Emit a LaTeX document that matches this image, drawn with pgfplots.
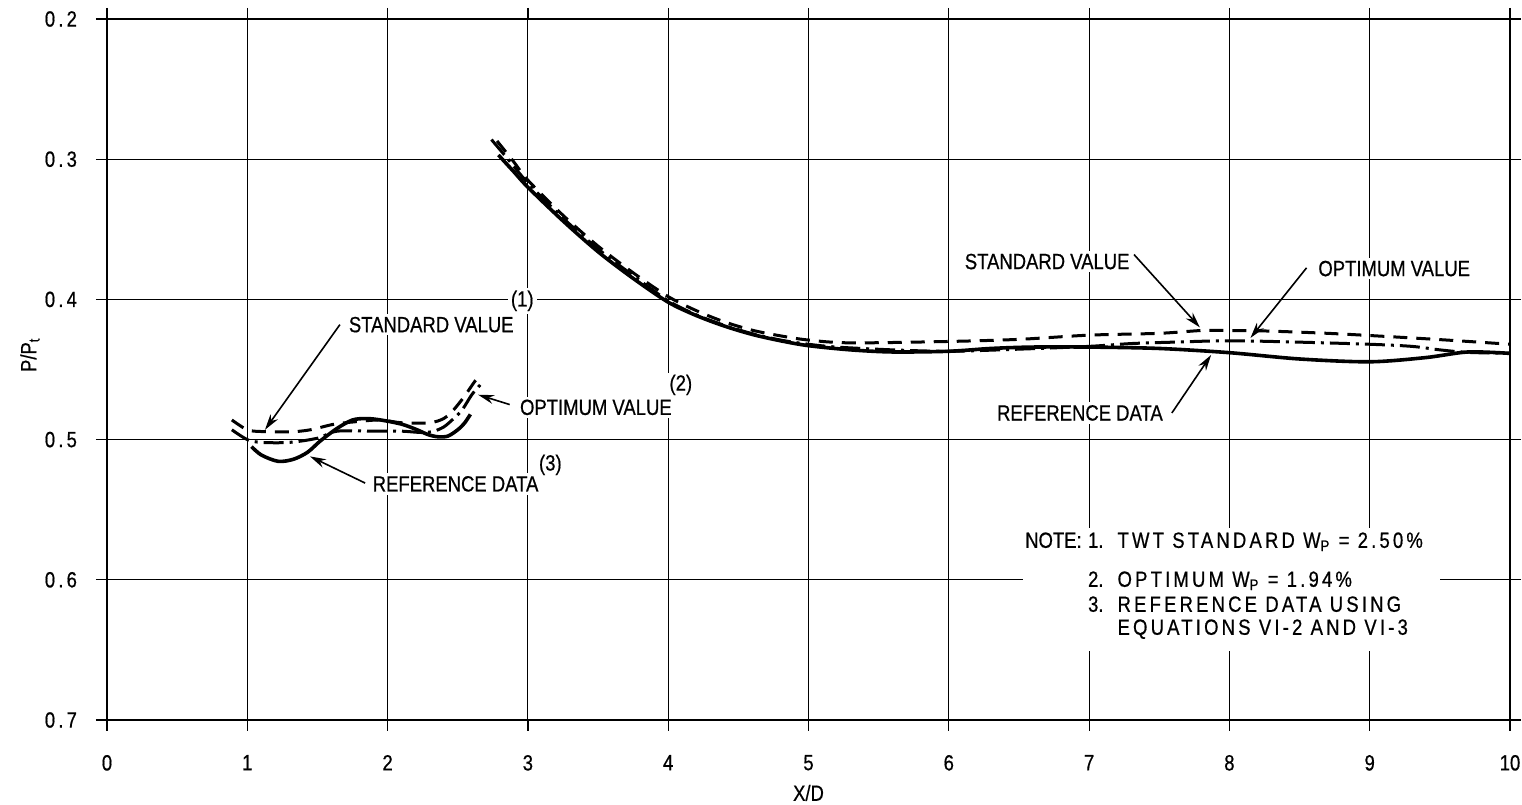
\documentclass[border=0pt]{standalone}
\usepackage{fontspec}
\setmainfont{Liberation Sans}[FakeStretch=0.84, FakeBold=0.6]
\newfontfamily\notefont{Liberation Sans}[FakeStretch=0.84, FakeBold=0.6, LetterSpace=14.5]
\usepackage{pgfplots}
\pgfplotsset{compat=1.18}
\usetikzlibrary{arrows.meta}

\newcommand{\dk}{\kern1.6pt.\kern1.6pt}
\begin{document}
\begin{tikzpicture}[font=\fontsize{11}{13}\selectfont,
  lbl/.style={fill=white, inner sep=1.5pt, anchor=west},
  nt/.style={anchor=base west, inner sep=0pt, font=\fontsize{11}{13}\notefont},
  arr/.style={-{Stealth[length=8pt,width=4.5pt]}, line width=0.8pt}]
\begin{axis}[
  at={(0,0)}, anchor=south west,
  scale only axis, width=701.5pt, height=350.5pt,
  xmin=0, xmax=10, ymin=0.2, ymax=0.7, y dir=reverse,
  xtick={0,1,2,3,4,5,6,7,8,9,10},
  ytick={0.2,0.3,0.4,0.5,0.6,0.7},
  yticklabels={0\dk2,0\dk3,0\dk4,0\dk5,0\dk6,0\dk7},
  grid=major, major grid style={black, line width=0.55pt},
  axis line style={black, line width=1pt},
  tick align=outside, major tick length=5.5pt,
  tick style={black, line width=0.6pt},
  /pgf/number format/assume math mode=true,
  xticklabel style={yshift=-8.5pt},
  yticklabel style={xshift=-6pt},
  clip=false,
  xlabel={X/D}, ylabel={P/P\textsubscript{t}},
  xlabel style={at={(rel axis cs:0.5,-0.104)}, anchor=center},
  ylabel style={at={(rel axis cs:-0.0549,0.521)}, anchor=center},
]
% ---- STANDARD VALUE (dashed) ----
\addplot[black, line width=1.5pt, smooth, tension=0.5, dash pattern=on 7pt off 4.5pt] coordinates {
(0.89,0.486) (0.98,0.492) (1.05,0.494) (1.3,0.4945) (1.45,0.493) (1.62,0.489) (1.8,0.487) (1.95,0.486) (2.1,0.488) (2.3,0.488) (2.40,0.485) (2.46,0.480) (2.545,0.4695) (2.625,0.458) (2.665,0.454)};
\addplot[black, line width=1.5pt, smooth, tension=0.5, dash pattern=on 7pt off 4.5pt] coordinates {
(2.78,0.287) (2.9,0.302) (3.0,0.315) (3.25,0.340) (3.5,0.362) (3.75,0.381) (4.0,0.398) (4.2,0.408) (4.4,0.416) (4.6,0.422) (4.8,0.426) (5.0,0.429) (5.3,0.431) (6.0,0.430) (6.5,0.4285) (7.0,0.4255) (7.5,0.4242) (7.8,0.4222) (8.0,0.4222) (8.25,0.4225) (8.7,0.4242) (9.13,0.4265) (9.55,0.429) (10.0,0.432)};
% ---- OPTIMUM VALUE (dash-dot) ----
\addplot[black, line width=1.5pt, smooth, tension=0.5, dash pattern=on 10pt off 3pt on 1.5pt off 3pt] coordinates {
(0.89,0.493) (1.0,0.500) (1.1,0.502) (1.3,0.502) (1.5,0.499) (1.64,0.494) (1.9,0.494) (2.1,0.494) (2.25,0.495) (2.33,0.494) (2.40,0.491) (2.46,0.486) (2.53,0.479) (2.60,0.468) (2.66,0.461)};
\addplot[black, line width=1.5pt, smooth, tension=0.5, dash pattern=on 10pt off 3pt on 1.5pt off 3pt] coordinates {
(2.74,0.286) (2.85,0.299) (3.0,0.317) (3.25,0.342) (3.5,0.364) (3.75,0.383) (4.0,0.401) (4.2,0.411) (4.4,0.4185) (4.6,0.4245) (4.8,0.429) (5.0,0.432) (5.2,0.434) (5.6,0.436) (6.0,0.437) (6.5,0.4355) (7.0,0.4335) (7.3,0.4315) (7.6,0.4305) (8.0,0.4295) (8.5,0.4305) (9.0,0.432) (9.3,0.4335) (9.5,0.436) (9.7,0.4378) (10.0,0.4385)};
% ---- REFERENCE DATA (solid) ----
\addplot[black, line width=1.8pt, smooth, tension=0.5] coordinates {
(1.03,0.505) (1.1,0.511) (1.22,0.5155) (1.33,0.514) (1.43,0.509) (1.52,0.501) (1.64,0.492) (1.75,0.486) (1.85,0.485) (1.95,0.486) (2.1,0.489) (2.21,0.493) (2.29,0.4965) (2.36,0.498) (2.43,0.4975) (2.50,0.493) (2.55,0.488) (2.59,0.482)};
\addplot[black, line width=1.8pt, smooth, tension=0.5] coordinates {
(2.79,0.297) (2.9,0.309) (3.0,0.320) (3.25,0.344) (3.5,0.366) (3.75,0.385) (4.0,0.402) (4.2,0.4115) (4.4,0.419) (4.6,0.425) (4.8,0.4295) (5.0,0.433) (5.3,0.436) (5.6,0.4375) (6.0,0.437) (6.3,0.435) (6.6,0.434) (7.0,0.434) (7.5,0.435) (8.0,0.438) (8.5,0.4425) (9.0,0.4445) (9.4,0.4415) (9.7,0.4375) (10.0,0.4385)};

% ---- annotations ----
\node[lbl] at (axis cs:1.70,0.418) {STANDARD VALUE};
\node[lbl] at (axis cs:2.92,0.477) {OPTIMUM VALUE};
\node[fill=white, inner sep=1pt] at (axis cs:4.09,0.461) {(2)};
\node[lbl] at (axis cs:1.87,0.5316) {REFERENCE DATA};
\node[fill=white, inner sep=1pt] at (axis cs:3.16,0.518) {(3)};
\node[fill=white, inner sep=1.5pt] at (axis cs:2.96,0.401) {(1)};
\draw[arr] (axis cs:1.66,0.418) -- (axis cs:1.126,0.493);
\draw[arr] (axis cs:2.87,0.475) -- (axis cs:2.645,0.468);
\draw[arr] (axis cs:1.84,0.531) -- (axis cs:1.447,0.512);

\node[lbl] at (axis cs:6.09,0.373) {STANDARD VALUE};
\node[lbl] at (axis cs:8.61,0.378) {OPTIMUM VALUE};
\node[lbl] at (axis cs:6.32,0.481) {REFERENCE DATA};
\draw[arr] (axis cs:7.32,0.368) -- (axis cs:7.79,0.420);
\draw[arr] (axis cs:8.55,0.3775) -- (axis cs:8.15,0.4275);
\draw[arr] (axis cs:7.59,0.481) -- (axis cs:7.87,0.4396);

% ---- note ----
\fill[white] (axis cs:6.53,0.563) rectangle (axis cs:9.50,0.651);
\node[anchor=base east, inner sep=0pt] at (axis cs:6.95,0.5772) {NOTE:};
\node[anchor=base west, inner sep=0pt] at (axis cs:6.99,0.5772) {1.};
\node[nt] at (axis cs:7.20,0.5772) {TWT STANDARD W\textsubscript{P} = 2.50\%};
\node[anchor=base west, inner sep=0pt] at (axis cs:6.99,0.6050) {2.};
\node[nt] at (axis cs:7.20,0.6050) {OPTIMUM W\textsubscript{P} = 1.94\%};
\node[anchor=base west, inner sep=0pt] at (axis cs:6.99,0.6228) {3.};
\node[nt] at (axis cs:7.20,0.6228) {REFERENCE DATA USING};
\node[nt] at (axis cs:7.20,0.6392) {EQUATIONS VI-2 AND VI-3};

\coordinate (bl) at (axis cs:0,0.7);
\coordinate (tr) at (axis cs:10,0.2);
\end{axis}
\pgfresetboundingbox
\path[use as bounding box] ([shift={(-53.5pt,-42.5pt)}]bl) rectangle ([shift={(6pt,9.5pt)}]tr);
\end{tikzpicture}
\end{document}
